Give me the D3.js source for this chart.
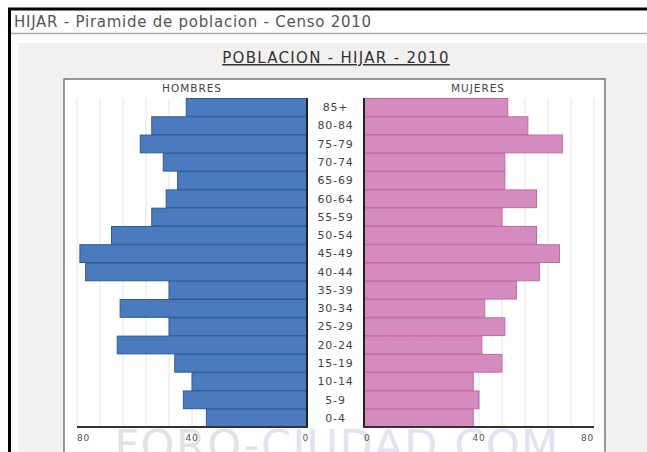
<!DOCTYPE html>
<html><head><meta charset="utf-8">
<script src="https://cdnjs.cloudflare.com/ajax/libs/d3/7.8.5/d3.min.js"></script>
<style>body{margin:0;background:#fff;overflow:hidden}svg{display:block}</style>
</head><body><svg id="c" width="647" height="452"></svg>
<script>
const ages = ["85+","80-84","75-79","70-74","65-69","60-64","55-59","50-54","45-49","40-44","35-39","30-34","25-29","20-24","15-19","10-14","5-9","0-4"];
const hombres = [42,54,58,50,45,49,54,68,79,77,48,65,48,66,46,40,43,35];
const mujeres = [50,57,69,49,49,60,48,60,68,61,53,42,49,41,48,38,40,38];
const tickVals = [80,40,0];
const gridVals = [8,16,24,32,40,48,56,64,72,80];

const svg = d3.select("#c");
const F = "'DejaVu Sans', Verdana, sans-serif";

// page frame
svg.append("rect").attr("x",18).attr("y",43).attr("width",629).attr("height",409).attr("fill","#f2f1ef");
svg.append("line").attr("x1",8).attr("x2",647).attr("y1",9).attr("y2",9).attr("stroke","#000").attr("stroke-width",3);
svg.append("line").attr("x1",9.5).attr("x2",9.5).attr("y1",8).attr("y2",452).attr("stroke","#000").attr("stroke-width",3);
svg.append("line").attr("x1",11).attr("x2",647).attr("y1",33.5).attr("y2",33.5).attr("stroke","#aaa").attr("stroke-width",1.5);
svg.append("text").attr("x",14).attr("y",27).attr("font-family",F).attr("font-size",15).attr("letter-spacing",0.75).attr("fill","#555").text("HIJAR - Piramide de poblacion - Censo 2010");
svg.append("text").attr("x",336).attr("y",63).attr("text-anchor","middle").attr("font-family",F).attr("font-size",15).attr("letter-spacing",1.3).attr("fill","#333").attr("text-decoration","underline").text("POBLACION - HIJAR - 2010");

// plot box
svg.append("rect").attr("x",64).attr("y",79).attr("width",541).attr("height",400).attr("fill","#fff").attr("stroke","#777").attr("stroke-width",1.5);

const y = d3.scaleBand().domain(ages).range([98,427]).padding(0);
const xL = d3.scaleLinear().domain([0,80]).range([307,77]);
const xR = d3.scaleLinear().domain([0,80]).range([364,594]);

// grid
svg.append("g").selectAll("line").data(gridVals).join("line")
  .attr("x1",d=>xL(d)).attr("x2",d=>xL(d)).attr("y1",98).attr("y2",427).attr("stroke","#e4e4e4");
svg.append("g").selectAll("line").data(gridVals).join("line")
  .attr("x1",d=>xR(d)).attr("x2",d=>xR(d)).attr("y1",98).attr("y2",427).attr("stroke","#e4e4e4");

// bars
svg.append("g").selectAll("rect").data(ages).join("rect")
  .attr("x",(d,i)=>xL(hombres[i])).attr("y",d=>y(d)+0.5)
  .attr("width",(d,i)=>xL(0)-xL(hombres[i])).attr("height",y.bandwidth()-0.5)
  .attr("fill","#4b7bbf").attr("stroke","#2e5b96").attr("stroke-width",1);
svg.append("g").selectAll("rect").data(ages).join("rect")
  .attr("x",xR(0)).attr("y",d=>y(d)+0.5)
  .attr("width",(d,i)=>xR(mujeres[i])-xR(0)).attr("height",y.bandwidth()-0.5)
  .attr("fill","#d48bbd").attr("stroke","#c468a9").attr("stroke-width",1);

// center axis lines
svg.append("line").attr("x1",307).attr("x2",307).attr("y1",98).attr("y2",428).attr("stroke","#222").attr("stroke-width",2);
svg.append("line").attr("x1",364).attr("x2",364).attr("y1",98).attr("y2",428).attr("stroke","#222").attr("stroke-width",2);
// bottom axes
svg.append("line").attr("x1",xL(80)).attr("x2",xL(0)+1).attr("y1",427).attr("y2",427).attr("stroke","#333").attr("stroke-width",2);
svg.append("line").attr("x1",xR(0)-1).attr("x2",xR(80)).attr("y1",427).attr("y2",427).attr("stroke","#333").attr("stroke-width",2);

// watermark (behind labels)
const wm = svg.append("text").attr("x",337).attr("y",460).attr("text-anchor","middle").attr("font-family",F).attr("font-size",43).attr("letter-spacing",1.5);
wm.append("tspan").attr("fill","#e2e2e2").text("FORO-");
wm.append("tspan").attr("fill","#e2e2f2").text("CIUDAD.COM");

// age labels
svg.append("g").selectAll("text").data(ages).join("text")
  .attr("x",335.5).attr("y",d=>y(d)+y.bandwidth()/2+4).attr("text-anchor","middle")
  .attr("font-family",F).attr("font-size",11).attr("letter-spacing",0.8).attr("fill","#444").text(d=>d);

// tick labels
svg.append("g").selectAll("text").data(tickVals).join("text")
  .attr("x",d=>d===80?xL(d):(d===0?xL(d)+2:xL(d))).attr("y",441)
  .attr("text-anchor",d=>d===80?"start":(d===0?"end":"middle"))
  .attr("font-family",F).attr("font-size",9).attr("letter-spacing",0.8).attr("fill","#555").text(d=>d);
svg.append("g").selectAll("text").data(tickVals).join("text")
  .attr("x",d=>xR(d)).attr("y",441)
  .attr("text-anchor",d=>d===80?"end":(d===0?"start":"middle"))
  .attr("font-family",F).attr("font-size",9).attr("letter-spacing",0.8).attr("fill","#555").text(d=>d);

// series headers
svg.append("text").attr("x",192).attr("y",92).attr("text-anchor","middle").attr("font-family",F).attr("font-size",10.5).attr("letter-spacing",1).attr("fill","#444").text("HOMBRES");
svg.append("text").attr("x",478).attr("y",92).attr("text-anchor","middle").attr("font-family",F).attr("font-size",10.5).attr("letter-spacing",1).attr("fill","#444").text("MUJERES");
</script></body></html>
